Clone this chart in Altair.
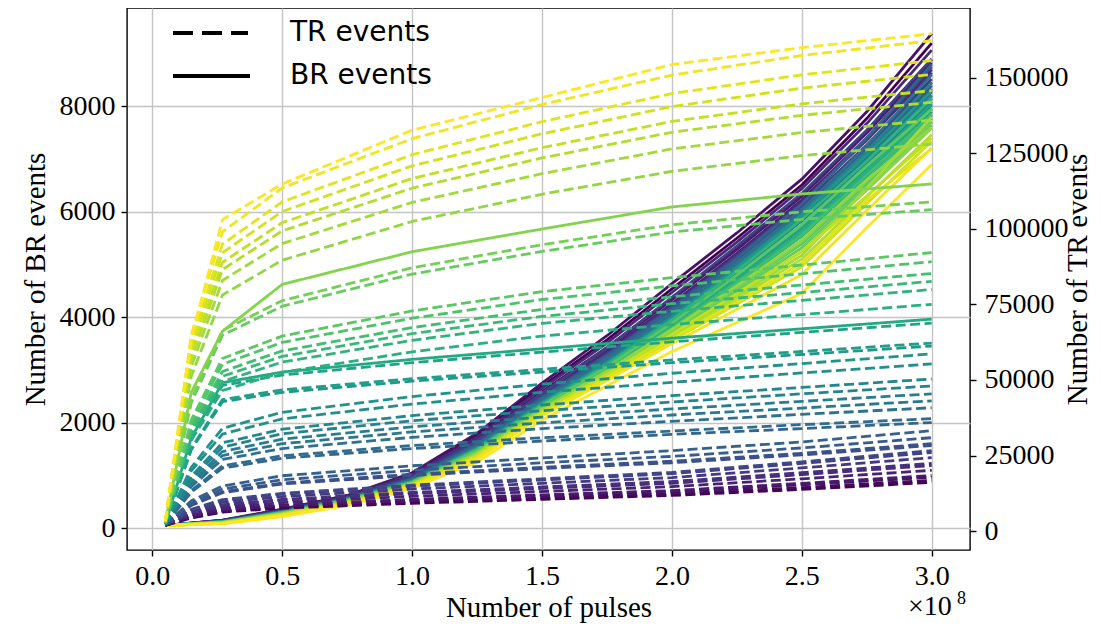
import altair as alt
import pandas as pd

# x positions of the readings, in units of 1e8 pulses
TR_X = [0.05, 0.15, 0.27, 0.5, 1.0, 1.5, 2.0, 2.5, 3.0]
BR_X = [0.05, 0.27, 0.5, 0.75, 1.0, 1.25, 1.5, 1.75, 2.0, 2.25, 2.5, 2.75, 3.0]

# TR events (right axis), one row per run, ordered by colour (viridis index)
TR_SERIES = [
    [1900, 4300, 6300, 7600, 9200, 10500, 11800, 13800, 16100],
    [1900, 4500, 6600, 7900, 9600, 10900, 12300, 14400, 16800],
    [1950, 4800, 6900, 8400, 10100, 11600, 13000, 15300, 17800],
    [1950, 5000, 7200, 8600, 10500, 12000, 13400, 15800, 18400],
    [2000, 5400, 7800, 9400, 11500, 13100, 14700, 17300, 20100],
    [2000, 5900, 8500, 10200, 12400, 14100, 15800, 18700, 21700],
    [2000, 6000, 8700, 10500, 12800, 14600, 16400, 19300, 22400],
    [2050, 6600, 9500, 11400, 13900, 15800, 17700, 20900, 24300],
    [2050, 7000, 10100, 12200, 14800, 16900, 19000, 22400, 26000],
    [2100, 7200, 10400, 12500, 15200, 17300, 19400, 22900, 26600],
    [2100, 8500, 12700, 15600, 18400, 20700, 22600, 25200, 28300],
    [2100, 8700, 13000, 15900, 18800, 21100, 23100, 25700, 28900],
    [2150, 9300, 13900, 17000, 20100, 22600, 24700, 27500, 30900],
    [2150, 10000, 14900, 18300, 21600, 24200, 26600, 29500, 33200],
    [2200, 12900, 20800, 24100, 27300, 29800, 32000, 33900, 35900],
    [2200, 13400, 21600, 24900, 28300, 30900, 33100, 35200, 37200],
    [2250, 14700, 23700, 27300, 31000, 33900, 36300, 38600, 40800],
    [2250, 15500, 25000, 28900, 32800, 35800, 38400, 40700, 43100],
    [2300, 16300, 26300, 30400, 34500, 37700, 40400, 42900, 45400],
    [2300, 17300, 27800, 32200, 36500, 39800, 42700, 45400, 48000],
    [2350, 18100, 29200, 33700, 38200, 41700, 44800, 47500, 50300],
    [2350, 19900, 32100, 37100, 42000, 45900, 49200, 52300, 55300],
    [2400, 21100, 34000, 39300, 44500, 48600, 52200, 55400, 58600],
    [2400, 26900, 42800, 45900, 49600, 52600, 55700, 58400, 61200],
    [2450, 27400, 43500, 46700, 50400, 53500, 56600, 59400, 62200],
    [2500, 30300, 48200, 51600, 55700, 59200, 62600, 65700, 68800],
    [2500, 30800, 49100, 52600, 56800, 60300, 63800, 66900, 70100],
    [2550, 30000, 46500, 52500, 59300, 64500, 68300, 71600, 75000],
    [2600, 32000, 49500, 55900, 63100, 68700, 72700, 76300, 79900],
    [2650, 33000, 51200, 57800, 65300, 71000, 75200, 78900, 82600],
    [2700, 34100, 52800, 59600, 67300, 73300, 77500, 81400, 85200],
    [2750, 35600, 55200, 62400, 70400, 76600, 81100, 85100, 89100],
    [2800, 36800, 57100, 64500, 72800, 79200, 83800, 88000, 92100],
    [2850, 42500, 64800, 74400, 85000, 92500, 98900, 103100, 106300],
    [2900, 43600, 66400, 76200, 87100, 94700, 101300, 105600, 108900],
    [2950, 45900, 66100, 81600, 92400, 99900, 107200, 111500, 114800],
    [3000, 51200, 78100, 89600, 102400, 111400, 119000, 124200, 128000],
    [3050, 54400, 82900, 95100, 108700, 118200, 126400, 131800, 135900],
    [3100, 56700, 86500, 99300, 113400, 123400, 131900, 137500, 141800],
    [3150, 58300, 88900, 102000, 116600, 126800, 135500, 141300, 145700],
    [3200, 60400, 92100, 105700, 120800, 131400, 140400, 146500, 151000],
    [3250, 62200, 94900, 108900, 124500, 135400, 144700, 150900, 155600],
    [3300, 64900, 99000, 113500, 129800, 141100, 150800, 157300, 162200],
    [3300, 63800, 103000, 114800, 132600, 143400, 154300, 159900, 164500],
]
# TR runs that are drawn with a continuous line
TR_SOLID_RUNS = [26, 35]

# BR events (left axis), same runs and colours, read at BR_X
BR_SERIES = [
    [50, 145, 350, 610, 1020, 1760, 2690, 3570, 4540, 5500, 6510, 7770, 9200],
    [50, 140, 335, 590, 980, 1680, 2590, 3430, 4360, 5320, 6330, 7540, 8890],
    [50, 150, 360, 620, 1050, 1800, 2750, 3650, 4640, 5600, 6620, 7900, 9380],
    [50, 135, 335, 585, 975, 1665, 2570, 3400, 4330, 5285, 6295, 7495, 8830],
    [50, 135, 325, 575, 955, 1635, 2530, 3350, 4260, 5215, 6225, 7405, 8700],
    [50, 145, 345, 600, 1010, 1725, 2650, 3510, 4470, 5425, 6440, 7675, 9070],
    [50, 132, 324, 572, 948, 1620, 2510, 3320, 4226, 5180, 6188, 7360, 8642],
    [50, 129, 318, 564, 931, 1590, 2470, 3265, 4157, 5110, 6116, 7270, 8519],
    [50, 135, 330, 580, 970, 1660, 2560, 3420, 4380, 5350, 6350, 7550, 8900],
    [50, 128, 315, 560, 923, 1575, 2450, 3238, 4123, 5075, 6080, 7225, 8458],
    [50, 131, 321, 568, 940, 1605, 2490, 3293, 4192, 5145, 6152, 7400, 8750],
    [50, 126, 312, 556, 914, 1560, 2430, 3210, 4088, 5040, 6044, 7180, 8396],
    [50, 125, 309, 552, 906, 1545, 2410, 3183, 4054, 5005, 6008, 7135, 8335],
    [50, 129, 318, 564, 931, 1590, 2470, 3265, 4157, 5110, 6150, 7400, 8800],
    [50, 123, 306, 548, 897, 1530, 2390, 3155, 4019, 4970, 5972, 7090, 8273],
    [50, 122, 303, 544, 889, 1515, 2370, 3128, 3985, 4935, 5936, 7045, 8212],
    [50, 126, 312, 556, 914, 1560, 2430, 3210, 4088, 5040, 6044, 7250, 8600],
    [50, 120, 300, 540, 880, 1500, 2350, 3100, 3950, 4900, 5900, 7000, 8150],
    [50, 118, 296, 535, 874, 1488, 2335, 3080, 3920, 4850, 5828, 6935, 8088],
    [50, 123, 306, 548, 897, 1530, 2390, 3155, 4019, 4970, 5972, 7150, 8450],
    [50, 116, 292, 529, 868, 1475, 2320, 3060, 3890, 4800, 5755, 6870, 8025],
    [50, 118, 296, 535, 874, 1488, 2335, 3080, 3920, 4850, 5850, 6980, 8200],
    [50, 114, 288, 524, 862, 1463, 2305, 3040, 3860, 4750, 5683, 6805, 7963],
    [50, 122, 303, 544, 889, 1515, 2370, 3128, 3985, 4935, 5936, 7080, 8300],
    [50, 112, 284, 518, 856, 1450, 2290, 3020, 3830, 4700, 5610, 6740, 7900],
    [50, 114, 288, 524, 862, 1463, 2305, 3040, 3860, 4760, 5700, 6850, 8050],
    [50, 110, 280, 513, 850, 1438, 2275, 3000, 3800, 4650, 5538, 6675, 7838],
    [50, 112, 284, 518, 856, 1450, 2290, 3020, 3830, 4700, 5620, 6780, 7950],
    [50, 120, 300, 540, 880, 1500, 2350, 3100, 3950, 4880, 5860, 6960, 8150],
    [50, 108, 276, 507, 844, 1425, 2260, 2980, 3770, 4600, 5465, 6610, 7775],
    [50, 110, 280, 513, 850, 1438, 2275, 3000, 3800, 4660, 5560, 6700, 7850],
    [50, 106, 272, 502, 838, 1413, 2245, 2960, 3740, 4550, 5393, 6545, 7713],
    [50, 116, 292, 529, 868, 1475, 2320, 3060, 3890, 4800, 5755, 6870, 7950],
    [50, 104, 268, 496, 832, 1400, 2230, 2940, 3710, 4500, 5320, 6480, 7650],
    [50, 106, 272, 502, 838, 1413, 2245, 2960, 3740, 4560, 5420, 6580, 7700],
    [50, 102, 264, 491, 826, 1388, 2215, 2920, 3680, 4450, 5248, 6415, 7588],
    [50, 108, 276, 507, 844, 1425, 2260, 2980, 3770, 4600, 5465, 6610, 7600],
    [50, 100, 260, 485, 820, 1375, 2200, 2900, 3650, 4400, 5175, 6450, 7800],
    [50, 98, 256, 480, 814, 1363, 2185, 2880, 3620, 4350, 5103, 6285, 7463],
    [50, 102, 264, 491, 826, 1388, 2215, 2920, 3680, 4450, 5250, 6300, 7400],
    [50, 94, 248, 469, 802, 1338, 2155, 2840, 3560, 4250, 4958, 6155, 7338],
    [50, 96, 252, 474, 808, 1350, 2170, 2860, 3590, 4300, 5030, 6220, 7200],
    [50, 90, 240, 458, 790, 1313, 2125, 2800, 3500, 4150, 4813, 6025, 7213],
    [50, 80, 220, 430, 760, 1250, 2050, 2700, 3350, 3900, 4450, 5700, 6900],
]

X_TICKS = [0.0, 0.5, 1.0, 1.5, 2.0, 2.5, 3.0]
BR_TICKS = [0, 2000, 4000, 6000, 8000]
TR_TICKS = [0, 25000, 50000, 75000, 100000, 125000, 150000]
LEGEND_LABELS = ["TR events", "BR events"]

N = len(TR_SERIES)

br_rows, tr_rows = [], []
for i in range(N):
    for k, x in enumerate(BR_X):
        br_rows.append({"run": i, "x": x, "k": k, "br": BR_SERIES[i][k]})
    for k, x in enumerate(TR_X):
        tr_rows.append({"run": i, "x": x, "k": k, "tr": TR_SERIES[i][k],
                        "style": "solid" if i in TR_SOLID_RUNS else "dashed"})
df_br = pd.DataFrame(br_rows)
df_tr = pd.DataFrame(tr_rows)

SERIF = "Liberation Serif"
W, H = 843, 542

x_enc = alt.X("x:Q",
              scale=alt.Scale(domain=[-0.0975, 3.1475], nice=False, zero=False),
              axis=alt.Axis(values=X_TICKS, format=".1f", title="Number of pulses",
                            grid=True, labelPadding=6, titleY=57, titleBaseline="middle",
                            labelFlush=False, labelOverlap=False))
color_enc = alt.Color("run:Q", scale=alt.Scale(scheme="viridis", domain=[0, N - 1]), legend=None)

br = alt.Chart(df_br).mark_line(strokeWidth=2.8, strokeJoin="round").encode(
    x=x_enc,
    y=alt.Y("br:Q", scale=alt.Scale(domain=[-415, 9868], nice=False, zero=False),
            axis=alt.Axis(values=BR_TICKS, format="d", title="Number of BR events",
                          grid=True, orient="left", labelPadding=6,
                          titleAngle=270, titleX=-92, titleY=H / 2,
                          titleAlign="center", titleBaseline="middle")),
    color=color_enc,
    detail="run:N",
    order="k:Q",
)

tr = alt.Chart(df_tr).mark_line(strokeWidth=2.8, strokeJoin="round").encode(
    x=x_enc,
    y=alt.Y("tr:Q", scale=alt.Scale(domain=[-6250, 173000], nice=False, zero=False),
            axis=alt.Axis(values=TR_TICKS, format="d", title="Number of TR events",
                          grid=False, orient="right", labelPadding=8,
                          titleAngle=270, titleX=107, titleY=H / 2,
                          titleAlign="center", titleBaseline="middle")),
    color=color_enc,
    detail="run:N",
    order="k:Q",
    strokeDash=alt.StrokeDash("style:N",
                              scale=alt.Scale(domain=["dashed", "solid"], range=[[10, 4.5], [1, 0]]),
                              legend=None),
)

one = pd.DataFrame({"a": [0]})
leg_tr_line = alt.Chart(one).mark_rule(color="black", strokeWidth=4, strokeDash=[20, 9]).encode(
    x=alt.value(46), x2=alt.value(121), y=alt.value(25))
leg_br_line = alt.Chart(one).mark_rule(color="black", strokeWidth=4).encode(
    x=alt.value(46), x2=alt.value(123), y=alt.value(68))
leg_tr_text = alt.Chart(one).mark_text(align="left", baseline="middle", font="DejaVu Sans",
                                       fontSize=28, color="black").encode(
    x=alt.value(163), y=alt.value(25), text=alt.value(LEGEND_LABELS[0]))
leg_br_text = alt.Chart(one).mark_text(align="left", baseline="middle", font="DejaVu Sans",
                                       fontSize=28, color="black").encode(
    x=alt.value(163), y=alt.value(68), text=alt.value(LEGEND_LABELS[1]))

mult = alt.Chart(one).mark_text(align="left", baseline="alphabetic", font=SERIF,
                                fontSize=28, color="black").encode(
    x=alt.value(781), y=alt.value(607), text=alt.value("×10"))
mult_exp = alt.Chart(one).mark_text(align="left", baseline="alphabetic", font=SERIF,
                                    fontSize=18, color="black").encode(
    x=alt.value(830), y=alt.value(596), text=alt.value("8"))

chart = alt.layer(br, tr, leg_tr_line, leg_br_line, leg_tr_text, leg_br_text, mult, mult_exp).resolve_scale(
    y="independent"
).properties(
    width=W, height=H,
    autosize=alt.AutoSizeParams(type="none"),
    padding={"left": 119, "top": 0, "right": 123, "bottom": 76},
).configure_view(
    stroke="black", strokeWidth=1.4
).configure_axis(
    labelFont=SERIF, labelFontSize=28, labelColor="black",
    titleFont=SERIF, titleFontSize=29, titleFontWeight="normal", titleColor="black",
    tickColor="black", tickSize=6, tickWidth=1.4,
    domain=False, gridColor="#c4c4c4", gridWidth=1.4,
)

chart.save("out.html", embed_options={"renderer": "svg", "actions": False})
